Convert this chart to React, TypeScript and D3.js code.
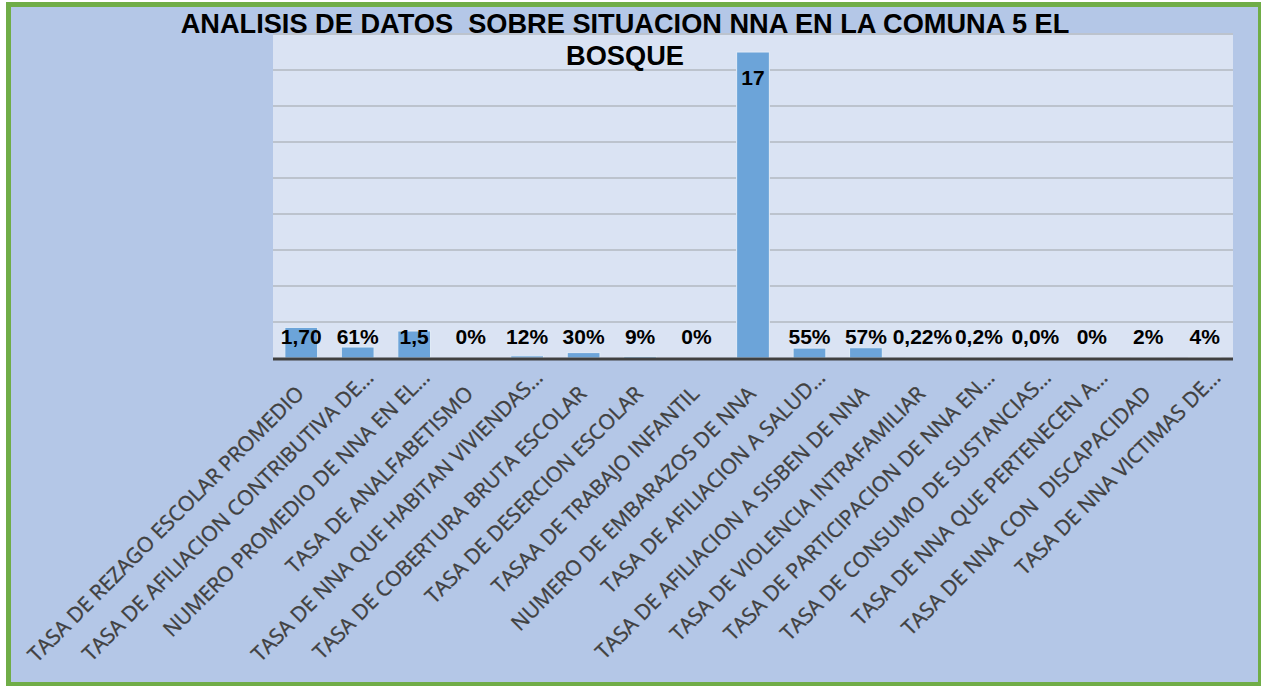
import React from "react";
import * as d3 from "d3";

const categories: string[] = [
  "TASA DE REZAGO ESCOLAR PROMEDIO",
  "TASA DE AFILIACION CONTRIBUTIVA DE…",
  "NUMERO PROMEDIO DE NNA EN EL…",
  "TASA DE ANALFABETISMO",
  "TASA DE NNA QUE HABITAN VIVIENDAS…",
  "TASA DE COBERTURA BRUTA ESCOLAR",
  "TASA DE DESERCION ESCOLAR",
  "TASAA DE TRABAJO INFANTIL",
  "NUMERO DE EMBARAZOS DE NNA",
  "TASA DE AFILIACION A SALUD…",
  "TASA DE AFILIACION A SISBEN DE NNA",
  "TASA DE VIOLENCIA INTRAFAMILIAR",
  "TASA DE PARTICIPACION DE NNA EN…",
  "TASA DE CONSUMO DE SUSTANCIAS…",
  "TASA DE NNA QUE PERTENECEN A…",
  "TASA DE NNA CON  DISCAPACIDAD",
  "TASA DE NNA VICTIMAS DE…",
];

const values: number[] = [
  1.7, 0.61, 1.5, 0, 0.12, 0.3, 0.09, 0, 17, 0.55, 0.57, 0.0022, 0.002, 0, 0, 0.02, 0.04,
];

const valueLabels: string[] = [
  "1,70", "61%", "1,5", "0%", "12%", "30%", "9%", "0%", "17", "55%", "57%",
  "0,22%", "0,2%", "0,0%", "0%", "2%", "4%",
];

const titleLines: string[] = [
  "ANALISIS DE DATOS  SOBRE SITUACION NNA EN LA COMUNA 5 EL",
  "BOSQUE",
];

const yMax = 18;
const yTickStep = 2;

const W = 1261;
const H = 686;
const plot = { left: 273, right: 1233, top: 34, bottom: 358 };

export default function App() {
  const x = d3
    .scaleBand<number>()
    .domain(d3.range(categories.length))
    .range([plot.left, plot.right])
    .paddingInner(0.42)
    .paddingOuter(0.21);
  const y = d3.scaleLinear().domain([0, yMax]).range([plot.bottom, plot.top]);
  const grid = d3.range(yTickStep, yMax + 0.001, yTickStep);

  return (
    <svg
      width={W}
      height={H}
      style={{ position: "absolute", left: 0, top: 0, display: "block" }}
    >
      <rect x={0} y={0} width={W} height={H} fill="#ffffff" />
      <rect
        x={8.5}
        y={4.5}
        width={1252}
        height={680}
        fill="#b4c7e7"
        stroke="#70ad47"
        strokeWidth={5}
      />
      <rect
        x={plot.left}
        y={plot.top - 1}
        width={plot.right - plot.left}
        height={plot.bottom - plot.top + 1}
        fill="#dae3f3"
      />
      {grid.map((g) => (
        <line
          key={g}
          x1={plot.left}
          x2={plot.right}
          y1={y(g)}
          y2={y(g)}
          stroke="#bcc3cd"
          strokeWidth={2}
        />
      ))}
      {values.map((v, i) => (
        <rect
          key={i}
          x={x(i)!}
          y={y(v)}
          width={x.bandwidth()}
          height={Math.max(0, y(0) - y(v))}
          fill="#6ca4d9"
          stroke="#e3ecf7"
          strokeWidth={1}
        />
      ))}
      <line
        x1={plot.left}
        x2={plot.right}
        y1={plot.bottom + 1}
        y2={plot.bottom + 1}
        stroke="#404040"
        strokeWidth={3}
      />
      {values.map((v, i) => (
        <text
          key={i}
          x={x(i)! + x.bandwidth() / 2}
          y={Math.min(y(v) + 33, y(0) - 14)}
          textAnchor="middle"
          fontFamily="'Liberation Sans', Arial, sans-serif"
          fontWeight="bold"
          fontSize={21}
          fill="#000000"
        >
          {valueLabels[i]}
        </text>
      ))}
      {categories.map((c, i) => {
        const cx = x(i)! + x.bandwidth() / 2;
        const trunc = c.endsWith("…");
        const px = cx + (trunc ? 17 : 4);
        const py = plot.bottom + (trunc ? 21 : 37);
        return (
          <text
            key={i}
            transform={`translate(${px},${py}) rotate(-45)`}
            textAnchor="end"
            fontFamily="'Open Sans', sans-serif"
            fontSize={21}
            fill="#404040"
            stroke="#404040"
            strokeWidth={0.35}
            style={{ whiteSpace: "pre" }}
          >
            {c}
          </text>
        );
      })}
      {titleLines.map((t, i) => (
        <text
          key={i}
          x={625}
          y={33 + i * 32}
          textAnchor="middle"
          fontFamily="'Liberation Sans', Arial, sans-serif"
          fontWeight="bold"
          fontSize={27.2}
          fill="#000000"
          style={{ whiteSpace: "pre" }}
        >
          {t}
        </text>
      ))}
    </svg>
  );
}
